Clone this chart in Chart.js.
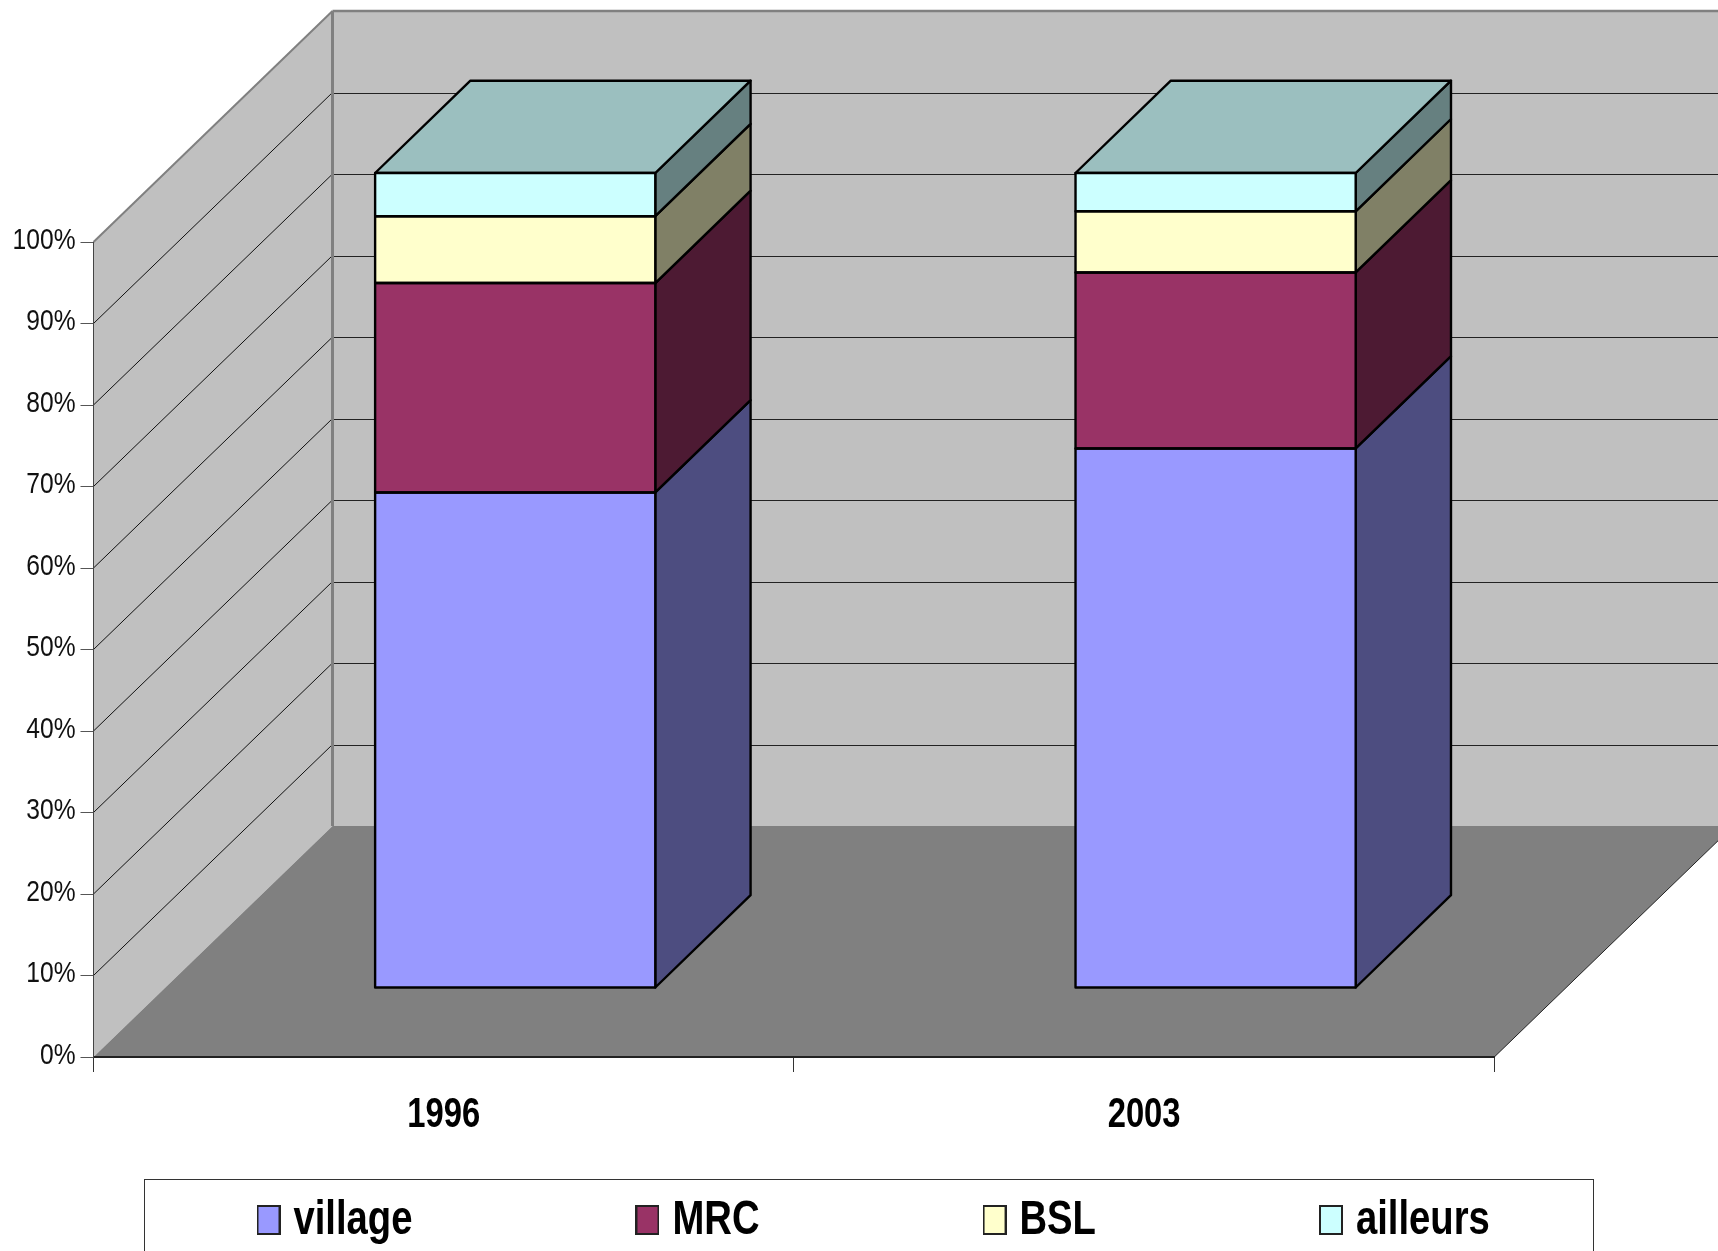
<!DOCTYPE html>
<html>
<head>
<meta charset="utf-8">
<style>html,body{margin:0;padding:0;background:#fff;overflow:hidden}canvas{display:block}</style>
<script src="https://cdn.jsdelivr.net/npm/chart.js@4"></script>
</head>
<body>
<canvas id="c" width="1718" height="1251"></canvas>
<script>
const categories = ['1996', '2003'];
const seriesNames = ['village', 'MRC', 'BSL', 'ailleurs'];
const village = [60.8, 66.2];
const mrc = [25.7, 21.6];
const bsl = [8.2, 7.5];
const ailleurs = [5.3, 4.7];
const frontColors = ['#9999FF', '#993366', '#FFFFCC', '#CCFFFF'];
const sideColors = ['#4D4D80', '#4D1A33', '#808066', '#668080'];
const topColor = '#9BBFBF';
const seriesValues = [village, mrc, bsl, ailleurs];

const FONT = "'Liberation Sans',Arial,sans-serif";
const WALL = {dx: 239, dy: -231};
const BAR_SHIFT = {dx: 71.5, dy: -69};
const BAR_DEPTH = {dx: 95.3, dy: -92.3};

// The reference text is horizontally condensed: narrow all canvas text.
const canvas = document.getElementById('c');
const cx = canvas.getContext('2d');
const rawFill = cx.fillText.bind(cx), rawMeasure = cx.measureText.bind(cx);
const isBold = () => /bold|700/.test(cx.font);
const narrow = () => isBold() ? 0.78 : 0.82;
cx.fillText = function (t, x, y, m) {
  const k = narrow(), lift = isBold() ? 0 : 1.5;
  cx.save(); cx.translate(x, y - lift); cx.scale(k, 1);
  rawFill(t, 0, 0); cx.restore();
};
cx.measureText = function (t) {
  const r = rawMeasure(t), k = narrow();
  return {width: r.width * k, actualBoundingBoxAscent: r.actualBoundingBoxAscent, actualBoundingBoxDescent: r.actualBoundingBoxDescent};
};

function swatch(color) {
  const c = document.createElement('canvas');
  c.width = 24; c.height = 30;
  const g = c.getContext('2d');
  g.fillStyle = color; g.strokeStyle = '#222'; g.lineWidth = 2;
  g.fillRect(1, 1, 22, 28); g.strokeRect(1, 1, 22, 28);
  return c;
}
const swatches = frontColors.map(swatch);

function poly(ctx, pts, fill, stroke, lw) {
  ctx.beginPath();
  pts.forEach((p, i) => i ? ctx.lineTo(p[0], p[1]) : ctx.moveTo(p[0], p[1]));
  ctx.closePath();
  if (fill) { ctx.fillStyle = fill; ctx.fill(); }
  if (stroke) { ctx.strokeStyle = stroke; ctx.lineWidth = lw; ctx.lineJoin = 'round'; ctx.stroke(); }
}
function line(ctx, x1, y1, x2, y2, color, lw) {
  ctx.beginPath(); ctx.moveTo(x1, y1); ctx.lineTo(x2, y2);
  ctx.strokeStyle = color; ctx.lineWidth = lw; ctx.stroke();
}

const box3d = {
  id: 'box3d',
  beforeDraw(chart) {
    const {ctx, chartArea: a, scales: {y}} = chart;
    const lg = chart.legend;
    lg.left = 33.5; lg.right = 3000; lg.top = 961; lg.bottom = 1400;
    const dx = WALL.dx, dy = WALL.dy;
    ctx.save();
    poly(ctx, [[a.left + dx, a.top + dy], [a.right + dx, a.top + dy], [a.right + dx, a.bottom + dy], [a.left + dx, a.bottom + dy]], '#C0C0C0');
    poly(ctx, [[a.left, a.top], [a.left + dx, a.top + dy], [a.left + dx, a.bottom + dy], [a.left, a.bottom]], '#C0C0C0');
    poly(ctx, [[a.left, a.bottom], [a.right, a.bottom], [a.right + dx, a.bottom + dy], [a.left + dx, a.bottom + dy]], '#808080');
    y.ticks.forEach(t => {
      const py = y.getPixelForValue(t.value);
      if (t.value > 0 && t.value < 100) {
        line(ctx, a.left, py, a.left + dx, py + dy, '#111', 1);
        line(ctx, a.left + dx, Math.round(py + dy) + 0.5, a.right + dx, Math.round(py + dy) + 0.5, '#222', 1.2);
      }
    });
    line(ctx, a.left + dx, a.top + dy, a.left + dx, a.bottom + dy, '#808080', 3);
    line(ctx, a.left, a.top, a.left + dx, a.top + dy, '#808080', 2);
    line(ctx, a.left + dx, a.top + dy, a.right + dx, a.top + dy, '#808080', 2.5);
    line(ctx, a.right, a.bottom, a.right + dx, a.bottom + dy, '#222', 1);
    ctx.strokeStyle = '#333'; ctx.lineWidth = 1;
    ctx.strokeRect(144.5, 1179.5, 1449, 200);
    ctx.restore();
  },
  beforeDatasetsDraw(chart) {
    const {ctx} = chart;
    ctx.save();
    ctx.translate(BAR_SHIFT.dx, BAR_SHIFT.dy);
    const ddx = BAR_DEPTH.dx, ddy = BAR_DEPTH.dy;
    chart.data.datasets.forEach((ds, i) => {
      chart.getDatasetMeta(i).data.forEach(el => {
        const r = el.x + el.width / 2, l = el.x - el.width / 2;
        poly(ctx, [[r, el.y], [r + ddx, el.y + ddy], [r + ddx, el.base + ddy], [r, el.base]], sideColors[i], '#000', 2.4);
        if (i === chart.data.datasets.length - 1) {
          poly(ctx, [[l, el.y], [r, el.y], [r + ddx, el.y + ddy], [l + ddx, el.y + ddy]], topColor, '#000', 2.4);
        }
      });
    });
  },
  afterDatasetsDraw(chart) {
    const {ctx} = chart;
    chart.data.datasets.forEach((ds, i) => {
      chart.getDatasetMeta(i).data.forEach(el => {
        const l = el.x - el.width / 2, r = el.x + el.width / 2;
        poly(ctx, [[l, el.y], [r, el.y], [r, el.base], [l, el.base]], null, '#000', 2.4);
      });
    });
    ctx.restore();
  }
};

new Chart(canvas, {
  type: 'bar',
  data: {
    labels: categories,
    datasets: seriesNames.map((name, i) => ({
      label: name,
      data: seriesValues[i],
      backgroundColor: frontColors[i],
      borderWidth: 0,
      clip: false
    }))
  },
  plugins: [box3d],
  options: {
    responsive: false,
    animation: false,
    layout: {padding: {top: 242, right: 223.7, left: 0, bottom: 0}},
    datasets: {bar: {barPercentage: 0.4, categoryPercentage: 1}},
    scales: {
      x: {
        stacked: true,
        grid: {offset: true, drawOnChartArea: false, tickLength: 15, color: '#333', lineWidth: 1},
        border: {color: '#222', width: 2},
        ticks: {color: '#000', padding: 18, maxRotation: 0, font: {family: FONT, size: 42, weight: 'bold'}},
        afterFit(s) { s.height = 94; }
      },
      y: {
        stacked: true, min: 0, max: 100,
        grid: {drawOnChartArea: false, tickLength: 13, color: '#555', lineWidth: 1},
        border: {color: '#444', width: 1},
        ticks: {stepSize: 10, autoSkip: false, color: '#111', padding: 5,
          callback: v => v + '%', font: {family: FONT, size: 30}},
        afterFit(s) { s.width = 93.5; }
      }
    },
    plugins: {
      tooltip: {enabled: false},
      title: {display: false},
      legend: {
        position: 'bottom',
        align: 'start',
        maxHeight: 100,
        labels: {
          usePointStyle: true,
          boxWidth: 1,
          boxHeight: 30,
          padding: 234.5,
          color: '#000',
          font: {family: FONT, size: 49, weight: 'bold'},
          generateLabels(chart) {
            return Chart.defaults.plugins.legend.labels.generateLabels(chart)
              .map((it, i) => Object.assign(it, {pointStyle: swatches[i]}));
          }
        }
      }
    }
  }
});
</script>
</body>
</html>
